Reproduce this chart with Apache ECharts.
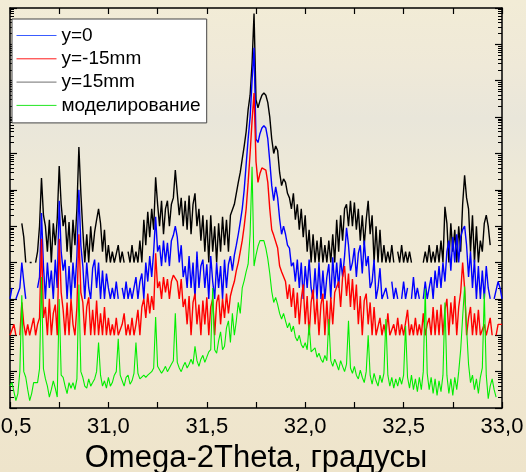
<!DOCTYPE html>
<html>
<head>
<meta charset="utf-8">
<script src="https://cdn.jsdelivr.net/npm/echarts@6.0.0/dist/echarts.min.js"></script>
<style>
html,body{margin:0;padding:0;}
body{width:526px;height:472px;overflow:hidden;
background:linear-gradient(180deg,#f2ecd6 0%,#efe9d8 14%,#e9e6da 25%,#eee9d7 38%,#f1e9d2 65%,#eee4cb 100%);}
#c{width:526px;height:472px;}
</style>
</head>
<body>
<div id="c"></div>
<script>
// scan grid (degrees)
const scanStart = 30.5;
const scanStep = 0.01;

// y=15mm (black)
const seriesY15 = [
null,null,null,null,1e4,null,1.2e5,5e4,1e4,null,
1e4,1e4,null,1e4,2e4,1e5,2.1e6,2e5,1e5,2e4,
1.5e5,1e4,1.2e5,3e4,1.6e5,4.5e6,4e5,1e5,2e5,2e4,
1.3e5,1e4,1.5e5,3e4,3e5,1.5e7,8e5,8e4,1e4,6e4,
1e4,1e5,2e4,7e4,1.5e5,3e5,1.2e5,2e4,8e4,1e4,
3e4,1e4,2e4,1e4,1e4,3e4,1e4,2e4,1e4,null,
2e4,1e4,3e4,1e4,2e4,1e4,4e4,1e4,1.5e5,3e4,
2.5e5,5e4,3e5,8e4,2.2e6,4e5,1e5,5e5,6e4,3e5,
5e5,1e5,4e5,6e5,3.5e6,8e5,2e5,6e5,1e5,5e5,
8e4,7e5,6e4,4e5,8e5,1e5,3e5,4e4,2e5,2e4,
1.5e5,1e4,2e5,2e4,1e5,1e4,1.2e5,2e4,1.8e5,3e4,
1.5e5,2e4,2e5,2e5,4e5,8e5,1.6e6,3e6,7e6,1.6e7,
4e7,1.6e8,4e8,3e9,7e10,3e8,1.8e8,2.8e8,4e8,4.6e8,
4e8,2.5e8,1e8,2.5e7,1e7,1.6e7,1.2e7,3e6,1.3e6,2e6,
1.6e6,8e5,6e5,3e5,8e5,1.5e5,4e5,8e4,3e5,5e4,
2e5,2e4,8e4,1e4,6e4,1e4,4e4,1e4,5e4,1e4,
3e4,1e4,4e4,1e4,6e4,1e4,1.5e5,2e4,2e5,4e4,
3e5,4e5,1e5,5e5,1e5,4.5e5,8e4,3e5,4e4,2e5,
3e4,1.5e5,5e5,6e4,2e5,1e4,1e5,1e4,8e4,1e4,
3e4,1e4,2e4,1e4,3e4,1e4,null,2e4,1e4,3e4,
1e4,2e4,1e4,2e4,1e4,null,1e4,null,1e4,null,
1e4,2e4,1e4,3e4,1e4,2e4,1e4,3e4,1e4,4e4,
1e4,3.4e5,1.2e5,1e4,1.2e5,2e4,8e4,1e4,1e5,2e4,
4e5,2.5e6,6e5,3e5,2e4,2e5,1e4,1e5,1e4,4e4,
2e4,1.2e5,2e5,1e5,3e4,null,null,null,null,null,
null
];

// y=0 (blue)
const seriesY0 = [
1e3,2e3,null,1e3,1e3,2e3,1e4,3e3,1e3,null,
1e3,null,1e3,null,2e3,4e3,2.3e5,8e3,1e3,1e4,
2e3,6e3,1e3,1.2e4,2e3,5e5,2e4,6e3,1.2e4,1e3,
8e3,1e3,1e4,2e3,1.5e4,1e6,3e4,8e3,1e3,1e4,
2e3,1e3,7e3,1.2e4,2e3,1e4,1e3,6e3,1e3,5e3,
2e3,1e3,2e3,1e3,3e3,1e3,null,2e3,1e3,3e3,
1e3,2e3,1e3,2e3,4e3,1e3,3e3,5e3,1e3,1e4,
3e3,1.5e4,4e3,2e4,1.8e5,2e4,3e4,8e3,4e4,1e4,
3.5e4,8e3,4e4,5.6e4,1e5,5e4,1e4,3e4,4e3,8e3,
2e3,1.5e4,2e3,1e4,1e3,2e4,2e3,8e3,1.2e4,2e3,
9e3,1e3,1.5e4,3e3,1e3,1e4,2e3,8e3,1e3,1.2e4,
2e3,9e3,1.5e4,6e3,1.6e4,3e4,6e4,1.3e5,3e5,1e6,
5e6,2.5e7,1e8,1e9,8e9,2.5e7,2e7,3.5e7,5e7,5.8e7,
5e7,2.5e7,6e6,1.3e6,5e5,1.2e6,6e5,1.6e5,6e4,1e5,
6e4,3e4,2.5e4,8e3,1e4,3e3,1.2e4,2e3,1e4,1e3,
8e3,2e3,1.2e4,2e3,1e3,7e3,1e3,1e4,1e3,6e3,
1e3,4e3,9e3,1e3,1.4e4,2e3,1e4,2e3,1.3e4,4e3,
1.5e4,9e4,3e4,6e3,1e4,2.5e4,4e3,1.8e4,3e4,5e3,
4e4,8e3,1.5e4,2e3,3e3,1.2e4,1e3,2e3,7e3,1e3,
1e3,2e3,1e3,null,3e3,1e3,2e3,1e3,null,1e3,
3e3,1e3,2e3,null,1e3,4e3,1e3,2e3,1e3,null,
1e3,3e3,1e3,2e3,4e3,1e3,6e3,2e3,8e3,2e3,
1e4,3e3,2e4,4e4,6e3,5e4,1e4,6e4,1e4,5e4,
8e4,1e5,3e4,4e3,2e4,2e3,1.2e4,1e3,8e3,1e3,
6e3,1e3,8e3,2e3,1e3,null,1e3,1e3,3e3,2e3,
1e3
];

// y=-15mm (red)
const seriesYm15 = [
1e2,1e2,2e2,1e2,null,1e2,8e2,2e2,1e2,2e2,
1e2,1e2,3e2,1e2,2e2,3e2,4.5e4,3e2,6e2,1e2,
1e3,1e2,4e2,7e2,1e2,4.5e4,1.5e3,5e2,1e2,8e2,
1e2,1e3,2e2,1e2,6e2,6e4,1.5e3,8e2,1e2,6e2,
1.1e3,1e2,5e2,1e2,9e2,1e2,4e2,1e2,6e2,1e2,
3e2,1e2,2e2,1e2,3e2,1e2,1e2,2e2,4e2,1e2,
2e2,1e2,3e2,1e2,2e2,5e2,1e2,6e2,1e3,3e2,
1.4e3,4e2,1.2e3,5e2,1.8e4,2e3,3e3,1e3,4e3,1.5e3,
3.5e3,1e3,3e3,4.5e3,5e3,3e3,1e3,3.5e3,6e2,1e3,
2e2,1.2e3,1e2,8e2,1.4e3,2e2,7e2,1e2,9e2,2e2,
1.1e3,1e2,6e2,1e3,1e2,8e2,1.3e3,2e2,1e3,3e2,
1.4e3,4e2,1.2e3,2e3,3e3,6e3,1e4,2e4,4e4,1e5,
3e5,1.6e6,1e7,8e7,4.6e8,6e6,1.6e6,2.8e6,4e6,4.3e6,
3.5e6,1.6e6,3e5,8e4,5.6e4,6e4,2.5e4,8e3,5.6e3,6e3,
3e3,1e3,2.5e3,6e2,2e3,3e2,1.5e3,2e2,1e3,2.5e3,
2e2,1.2e3,1e2,8e2,1.8e3,2e2,1e3,1e2,7e2,1.4e3,
1e2,9e2,1e2,1.1e3,2e2,1.5e3,1.5e3,3e3,6e2,4e3,
8e3,1.2e3,5e3,6e2,3.5e3,5e2,2.5e3,2e2,1.2e3,1e2,
9e2,1.4e3,2e2,8e2,1e2,6e2,1e2,1e2,3e2,1e2,
2e2,1e2,4e2,1e2,1e2,2e2,1e2,3e2,1e2,2e2,
1e2,1e2,5e2,1e2,2e2,1e2,3e2,1e2,2e2,1e2,
4e2,1e2,2e2,3e2,1e2,6e2,1e2,5e2,1e2,7e2,
1e2,5e2,1e3,1e2,8e2,2e2,1.2e3,1e2,6e2,1.5e3,
1e4,2e3,1e2,3e2,6e2,1e2,4e2,1e2,5e2,1e2,
1e2,2e2,1e2,1e2,3e2,1e2,null,1e2,2e2,2e2,
2e2
];

// моделирование (green)
const seriesModel = [
4,5,2.8,1.6,2.5,10,1250,10,7,3.2,
1.6,2.5,5,4.5,5,12,4000,12,6.3,4,
2,3.2,5.6,3.5,2,1000,8,7,4,2.5,
5,3.5,5,3.2,6.3,2500,10,7,4,3.5,
6.3,4,5,6.3,10,63,8,4,5.6,3.5,
7,4,5,8,10,80,8,5.6,4,7,
8,4.5,5.6,9,63,9,6.3,7,8,7,
8,9,10,12.6,316,14,12.6,9,11,14,
10,11,16,20,400,18,12.6,10,14,18,
12.6,16,22,16,50,20,14,22,28,18,
25,35,40,2000,40,32,70,125,40,50,
160,250,63,400,100,250,800,400,2000,3200,
5600,9000,6e4,4.3e6,8000,1.6e4,2.8e4,4e4,4.5e4,4e4,
2.5e4,1.26e4,5000,1600,800,1100,700,400,280,400,
250,160,220,125,180,90,70,100,56,45,
63,40,200,35,32,45,25,32,22,18,
28,20,280,20,14,22,16,11,20,14,
10,16,250,12.6,9,14,8,6.3,11,7,
5,10,100,8,4.5,9,5.6,4,8,5,
9,280,8,4,7,3.5,6.3,4,7,4.5,
8,180,7,3.5,8,3.2,6.3,2.8,7,3.2,
10,1900,9,3.2,7,2.5,6.3,2.2,5.6,2.8,
8,800,8,2.5,6.3,2.2,7,3.2,10,40,
316,2200,160,16,5,8,3.2,6.3,2.5,7,
12.6,1400,8,1.8,4,6.3,3.2,2,null,null,
null
];

const seriesNames = ['y=0', 'y=-15mm', 'y=15mm', 'моделирование'];
const seriesColors = ['#0000ff', '#ff0000', '#000000', '#00ee00'];
const legendLineColors = ['#3a5cff', '#ff1a1a', '#707070', '#22e622'];
const xTickValues = [30.5, 31.0, 31.5, 32.0, 32.5, 33.0];
const xTickLabels = ['30,5', '31,0', '31,5', '32,0', '32,5', '33,0'];
const xAxisTitle = 'Omega-2Theta, градусы';

function toPairs(arr) {
  return arr.map((v, i) => [+(scanStart + i * scanStep).toFixed(2), v]);
}

const FONT = '"Liberation Sans", Arial, sans-serif';
const chart = echarts.init(document.getElementById('c'), null, {renderer: 'canvas', width: 526, height: 472});

const axisLineStyle = {color: '#000', width: 1.5};
const xAxisCommon = {
  type: 'value', min: 30.5, max: 33.0, interval: 0.25,
  axisLine: {show: true, onZero: false, lineStyle: axisLineStyle},
  axisTick: {show: true, inside: true, length: 6, lineStyle: {color: '#000', width: 1.2}},
  splitLine: {show: false}
};
const yAxisCommon = {
  type: 'log', logBase: 10, min: 1, max: 1e11, interval: 1,
  axisLine: {show: true, onZero: false, lineStyle: axisLineStyle},
  axisTick: {show: true, inside: true, length: 7, lineStyle: {color: '#000', width: 1.2}},
  minorTick: {show: true, splitNumber: 9, length: 4, lineStyle: {color: '#000', width: 1}},
  axisLabel: {show: false},
  splitLine: {show: false},
  minorSplitLine: {show: false}
};

function lineSeries(name, data, color, z, width) {
  return {
    name: name, type: 'line', data: toPairs(data),
    xAxisIndex: 0, yAxisIndex: 0,
    symbol: 'none', showSymbol: false, connectNulls: false,
    lineStyle: {color: color, width: width},
    itemStyle: {color: color},
    z: z, animation: false
  };
}

chart.setOption({
  animation: false,
  backgroundColor: 'transparent',
  grid: {left: 10, right: 24, top: 8, bottom: 64, containLabel: false, outerBoundsMode: 'none'},
  legend: {
    orient: 'vertical', left: 12, top: 19,
    backgroundColor: '#ffffff', borderColor: '#444', borderWidth: 1,
    padding: [7, 6, 8, 4],
    itemWidth: 40, itemHeight: 14, itemGap: 4.3,
    itemStyle: {opacity: 0},
    textStyle: {fontSize: 19, color: '#000', fontFamily: FONT, lineHeight: 19},
    data: seriesNames.map((n, k) => ({
      name: n,
      lineStyle: {color: legendLineColors[k], width: 1},
      itemStyle: {opacity: 0}
    }))
  },
  xAxis: [
    Object.assign({}, xAxisCommon, {
      position: 'bottom',
      axisLabel: {
        show: true, fontSize: 22, color: '#000', fontFamily: FONT, margin: 8,
        formatter: function (v) {
          const k = xTickValues.findIndex(t => Math.abs(t - v) < 1e-6);
          return k >= 0 ? xTickLabels[k] : '';
        }
      },
      name: xAxisTitle, nameLocation: 'middle', nameGap: 33,
      nameTextStyle: {fontSize: 31, color: '#000', fontFamily: FONT}
    }),
    Object.assign({}, xAxisCommon, {position: 'top', axisLabel: {show: false}})
  ],
  yAxis: [
    Object.assign({}, yAxisCommon, {position: 'left'}),
    Object.assign({}, yAxisCommon, {position: 'right'})
  ],
  series: [
    lineSeries(seriesNames[2], seriesY15, seriesColors[2], 2, 1.4),
    lineSeries(seriesNames[0], seriesY0, seriesColors[0], 3, 1.4),
    lineSeries(seriesNames[1], seriesYm15, seriesColors[1], 4, 1.4),
    lineSeries(seriesNames[3], seriesModel, seriesColors[3], 5, 1.1)
  ]
});
</script>
</body>
</html>
